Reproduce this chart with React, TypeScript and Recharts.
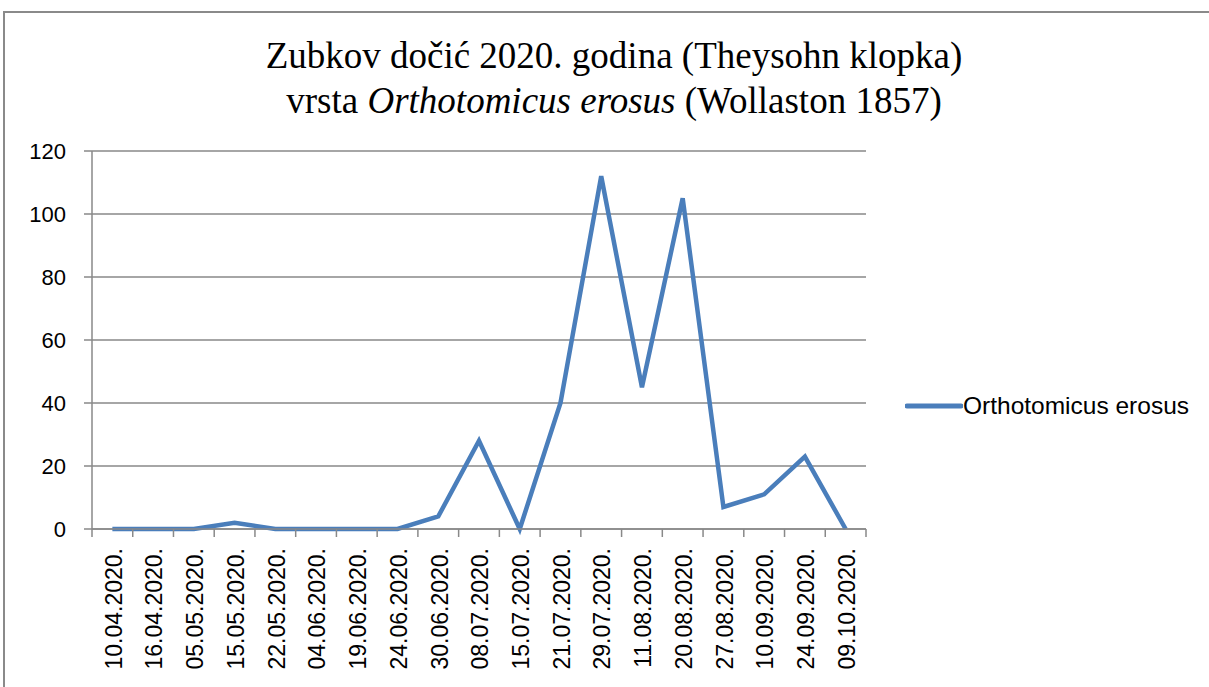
import React from "react"
import { LineChart, Line, XAxis, YAxis, CartesianGrid, Legend } from "recharts"

const dates = [
  "10.04.2020.", "16.04.2020.", "05.05.2020.", "15.05.2020.", "22.05.2020.",
  "04.06.2020.", "19.06.2020.", "24.06.2020.", "30.06.2020.", "08.07.2020.",
  "15.07.2020.", "21.07.2020.", "29.07.2020.", "11.08.2020.", "20.08.2020.",
  "27.08.2020.", "10.09.2020.", "24.09.2020.", "09.10.2020.",
]
const erosus = [0, 0, 0, 2, 0, 0, 0, 0, 4, 28, 0, 40, 112, 45, 105, 7, 11, 23, 0]
const yTicks = [0, 20, 40, 60, 80, 100, 120]

const data = dates.map((d, i) => ({ date: d, erosus: erosus[i] }))

const W = 1209
const H = 687
const PLOT_LEFT = 92
const PLOT_RIGHT = 866
const PLOT_TOP = 151
const PLOT_BOTTOM = 529
const BAND = (PLOT_RIGHT - PLOT_LEFT) / dates.length
const GRID = "#898989"
const BLUE = "#4A7EBB"
const SANS = "'Liberation Sans', Arial, sans-serif"

function XTick(props: any) {
  const { x, y, payload, index } = props
  const half = BAND / 2
  const ty = y + 19
  return (
    <g>
      <line x1={x - half} x2={x - half} y1={y} y2={y + 8} stroke={GRID} strokeWidth={1.5} />
      {index === dates.length - 1 && (
        <line x1={x + half} x2={x + half} y1={y} y2={y + 8} stroke={GRID} strokeWidth={1.5} />
      )}
      <text
        x={x + 1}
        y={ty}
        transform={`rotate(-90, ${x + 1}, ${ty})`}
        textAnchor="end"
        dy="0.36em"
        fontSize={23}
        fontFamily={SANS}
        fill="#000"
      >
        {payload.value}
      </text>
    </g>
  )
}

function LegendBox() {
  return (
    <div style={{ display: "flex", alignItems: "center", fontFamily: SANS, fontSize: 24.5, lineHeight: "28px" }}>
      <svg width={58} height={8} style={{ display: "block" }}>
        <line x1={2} x2={56} y1={4} y2={4} stroke={BLUE} strokeWidth={5} strokeLinecap="round" />
      </svg>
      <span style={{ color: "#000" }}>Orthotomicus erosus</span>
    </div>
  )
}

export default function App() {
  return (
    <div style={{ position: "absolute", left: 0, top: 0, width: W, height: H, background: "#fff" }}>
      <div
        style={{
          position: "absolute",
          left: 3,
          top: 11,
          right: 0,
          bottom: 0,
          borderTop: "2px solid #8a8a8a",
          borderLeft: "2px solid #8a8a8a",
        }}
      />
      <div
        style={{
          position: "absolute",
          left: 0,
          width: 1228,
          top: 33,
          textAlign: "center",
          fontFamily: "'Liberation Serif', 'Times New Roman', serif",
          fontSize: 37,
          lineHeight: "45px",
          color: "#000",
        }}
      >
        <div>Zubkov dočić 2020. godina (Theysohn klopka)</div>
        <div>
          vrsta <i>Orthotomicus erosus</i> (Wollaston 1857)
        </div>
      </div>
      <LineChart
        width={W}
        height={H}
        data={data}
        margin={{ top: PLOT_TOP, right: W - PLOT_RIGHT, bottom: 0, left: 0 }}
        style={{ position: "absolute", left: 0, top: 0 }}
      >
        <CartesianGrid vertical={false} stroke={GRID} strokeWidth={1.5} />
        <XAxis
          dataKey="date"
          interval={0}
          height={H - PLOT_BOTTOM}
          padding={{ left: BAND / 2, right: BAND / 2 }}
          tickSize={0}
          tickMargin={0}
          tickLine={false}
          axisLine={{ stroke: GRID, strokeWidth: 1.5 }}
          tick={<XTick />}
        />
        <YAxis
          width={PLOT_LEFT}
          domain={[0, 120]}
          ticks={yTicks}
          interval={0}
          tickSize={8}
          tickMargin={18}
          axisLine={{ stroke: GRID, strokeWidth: 1.5 }}
          tickLine={{ stroke: GRID, strokeWidth: 1.5 }}
          tick={{ fontSize: 22, fontFamily: SANS, fill: "#000" }}
        />
        <Legend
          layout="horizontal"
          verticalAlign="middle"
          align="center"
          content={<LegendBox />}
          wrapperStyle={{ left: 905, top: 392, width: 300 }}
        />
        <Line
          type="linear"
          dataKey="erosus"
          name="Orthotomicus erosus"
          stroke={BLUE}
          strokeWidth={4.5}
          dot={false}
          activeDot={false}
          isAnimationActive={false}
        />
      </LineChart>
    </div>
  )
}
